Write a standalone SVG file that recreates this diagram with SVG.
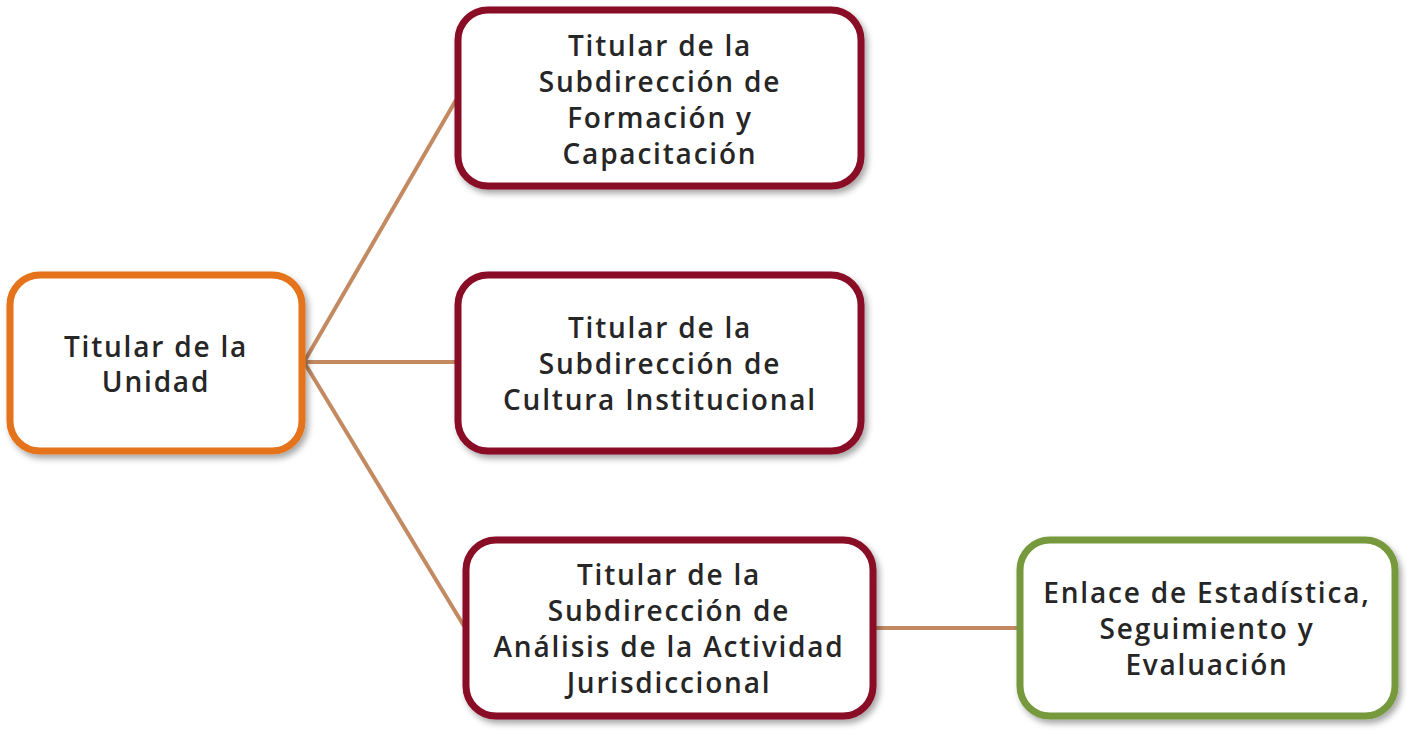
<svg xmlns="http://www.w3.org/2000/svg" width="1414" height="735" viewBox="0 0 1414 735">
<defs>
<filter id="sh" x="-10%" y="-10%" width="125%" height="130%">
<feDropShadow dx="3" dy="4" stdDeviation="3" flood-color="#000" flood-opacity="0.35"/>
</filter>
<style>
.box{fill:#fff;stroke-width:7;filter:url(#sh)}
.or{stroke:#E5731A}
.mr{stroke:#8A0C28}
.gr{stroke:#77993D}
.c{stroke:#C38A62;stroke-width:4;fill:none}
text{font-family:"Open Sans","DejaVu Sans",sans-serif;font-weight:600;font-size:28px;letter-spacing:1.8px;fill:#262626;text-anchor:middle;dominant-baseline:central}
</style>
</defs>
<rect width="1414" height="735" fill="#fff"/>
<g id="connectors">
<line class="c" x1="304" y1="362" x2="456" y2="100"/>
<line class="c" x1="304" y1="362" x2="456" y2="362"/>
<line class="c" x1="304" y1="362" x2="464" y2="626"/>
<line class="c" x1="875" y1="628" x2="1018" y2="628"/>
</g>
<g id="n1">
<rect class="box or" x="10" y="275" width="292" height="176" rx="30"/>
<text x="156" y="346">Titular de la</text>
<text x="156" y="381">Unidad</text>
</g>
<g id="n2">
<rect class="box mr" x="458" y="10" width="403" height="176" rx="30"/>
<text x="660" y="45">Titular de la</text>
<text x="660" y="81">Subdirección de</text>
<text x="660" y="117">Formación y</text>
<text x="660" y="153">Capacitación</text>
</g>
<g id="n3">
<rect class="box mr" x="458" y="275" width="403" height="176" rx="30"/>
<text x="660" y="327">Titular de la</text>
<text x="660" y="363">Subdirección de</text>
<text x="660" y="399">Cultura Institucional</text>
</g>
<g id="n4">
<rect class="box mr" x="466" y="540" width="407" height="176" rx="30"/>
<text x="669" y="574">Titular de la</text>
<text x="669" y="610">Subdirección de</text>
<text x="669" y="646">Análisis de la Actividad</text>
<text x="669" y="682">Jurisdiccional</text>
</g>
<g id="n5">
<rect class="box gr" x="1020" y="540" width="375" height="176" rx="30"/>
<text x="1207" y="592">Enlace de Estadística,</text>
<text x="1207" y="628">Seguimiento y</text>
<text x="1207" y="664">Evaluación</text>
</g>
</svg>
